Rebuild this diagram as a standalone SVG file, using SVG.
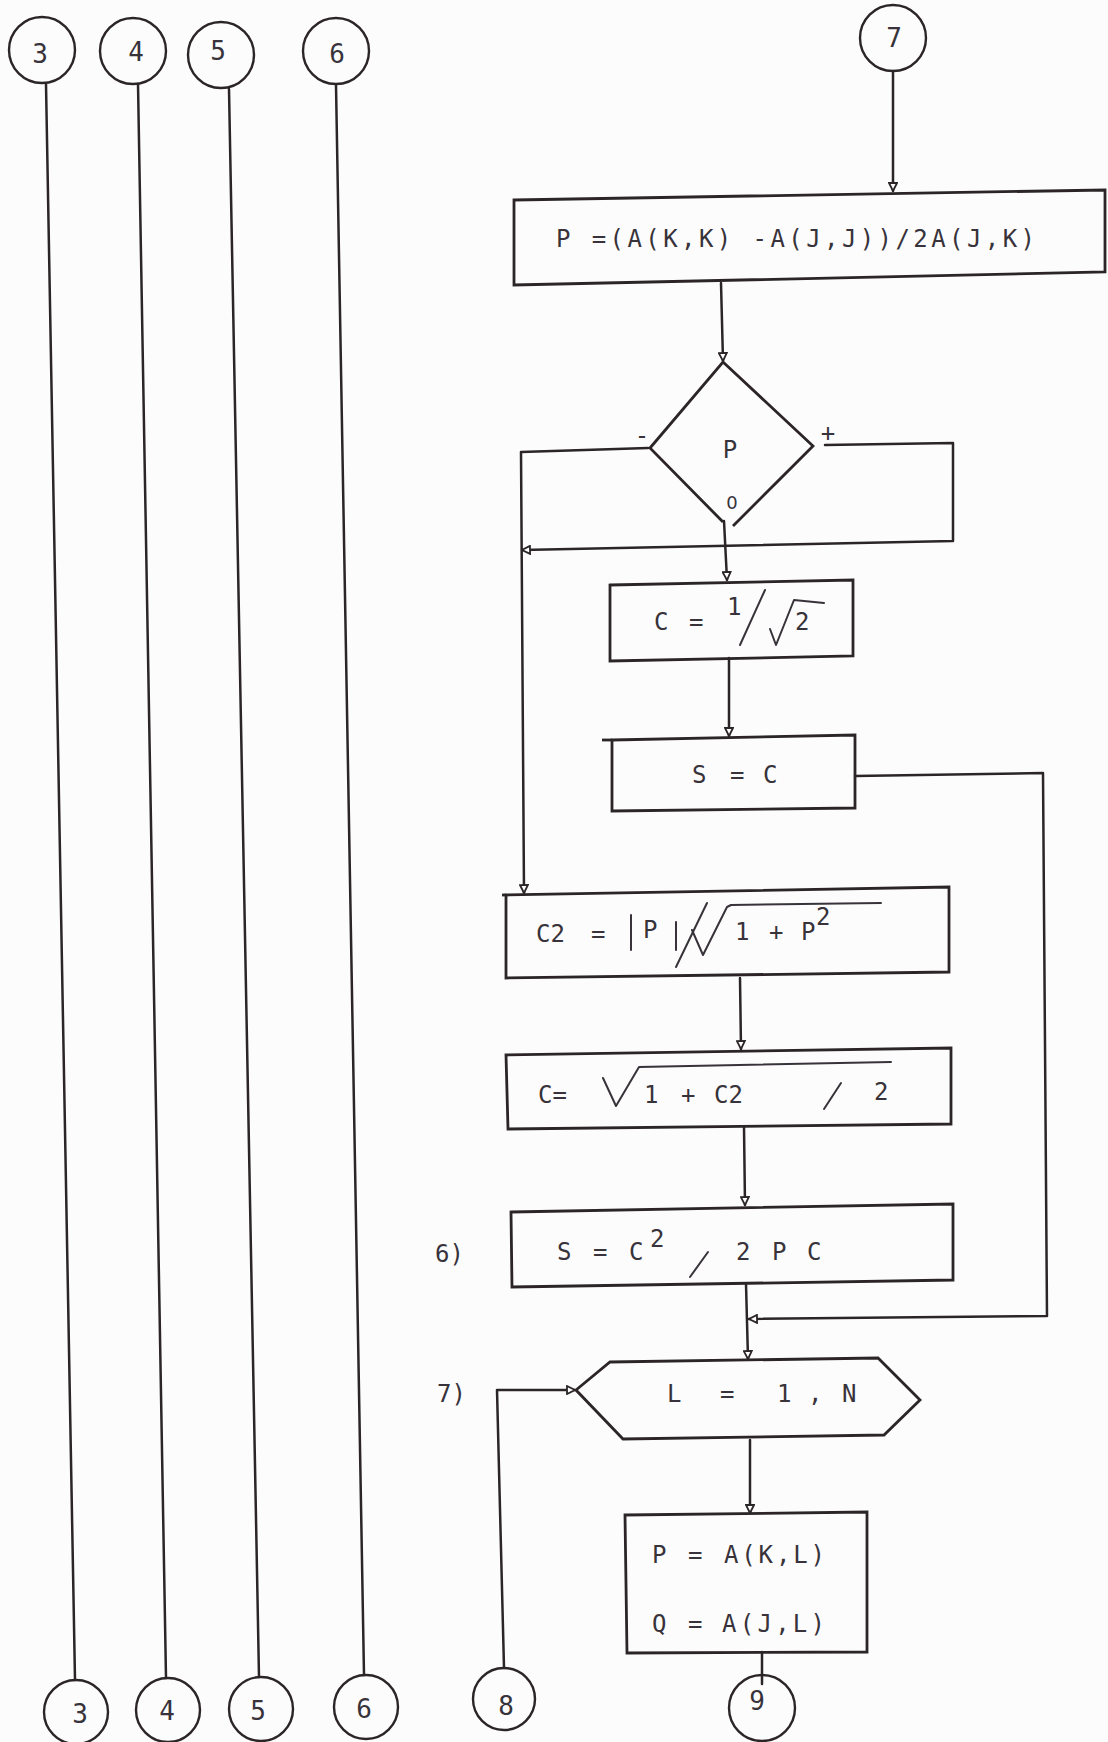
<svg xmlns="http://www.w3.org/2000/svg" width="1108" height="1742" viewBox="0 0 1108 1742">
  <style>
    .ln { fill: none; stroke: #2b2528; stroke-width: 2.5; stroke-linecap: round; stroke-linejoin: round; }
    .bx { fill: none; stroke: #2b2528; stroke-width: 2.8; stroke-linejoin: miter; }
    .cr { fill: none; stroke: #2b2528; stroke-width: 2.4; }
    .t  { font-family: "DejaVu Sans Mono", "Liberation Mono", monospace; font-size: 24px; fill: #38333a; }
    .d  { font-family: "DejaVu Sans Mono", "Liberation Mono", monospace; font-size: 26px; fill: #38333a; text-anchor: middle; }
    .m  { fill: none; stroke: #38333a; stroke-width: 2; stroke-linecap: round; stroke-linejoin: round; }
  </style>
  <defs>
    <marker id="ah" viewBox="0 0 10 10" refX="9" refY="5" markerWidth="10" markerHeight="10" markerUnits="userSpaceOnUse" orient="auto">
      <path d="M1,1 L9,5 L1,9 Z" fill="#ffffff" stroke="#2b2528" stroke-width="1.8"/>
    </marker>
  </defs>

  <rect width="1108" height="1742" fill="#fcfcfc"/>

  <!-- connectors -->
  <g id="connectors">
    <!-- off-page lines 3..6 -->
    <line class="ln" x1="46" y1="84" x2="75" y2="1680"/>
    <line class="ln" x1="138" y1="84" x2="166" y2="1678"/>
    <line class="ln" x1="229" y1="89" x2="259" y2="1677"/>
    <line class="ln" x1="336" y1="85" x2="364" y2="1675"/>
    <!-- main flow -->
    <path class="ln" d="M893,71 L893,191" marker-end="url(#ah)"/>
    <path class="ln" d="M721,283 L723,361" marker-end="url(#ah)"/>
    <!-- negative branch -->
    <path class="ln" d="M648,448 L521,452 L524,893" marker-end="url(#ah)"/>
    <!-- positive branch -->
    <path class="ln" d="M825,445 L953,443 L953,541 L522,550" marker-end="url(#ah)"/>
    <!-- zero branch -->
    <path class="ln" d="M724,521 L727,580" marker-end="url(#ah)"/>
    <path class="ln" d="M729,658 L729,736" marker-end="url(#ah)"/>
    <!-- S = C bypass -->
    <path class="ln" d="M855,776 L1043,773 L1047,1316 L749,1319" marker-end="url(#ah)"/>
    <path class="ln" d="M740,978 L741,1049" marker-end="url(#ah)"/>
    <path class="ln" d="M744,1127 L745,1205" marker-end="url(#ah)"/>
    <path class="ln" d="M746,1284 L748,1359" marker-end="url(#ah)"/>
    <!-- loop return from 8 -->
    <path class="ln" d="M504,1668 L497,1390 L575,1390" marker-end="url(#ah)"/>
    <path class="ln" d="M750,1440 L750,1513" marker-end="url(#ah)"/>
    <path class="ln" d="M762,1652 L762,1684"/>
  </g>

  <!-- top connectors -->
  <g id="c3-top"><circle class="cr" cx="42" cy="50" r="33"/><text class="d" x="40" y="63">3</text></g>
  <g id="c4-top"><circle class="cr" cx="133" cy="51" r="33"/><text class="d" x="136" y="61">4</text></g>
  <g id="c5-top"><circle class="cr" cx="221" cy="55" r="33"/><text class="d" x="218" y="60">5</text></g>
  <g id="c6-top"><circle class="cr" cx="336" cy="51" r="33"/><text class="d" x="337" y="63">6</text></g>
  <g id="c7-top"><circle class="cr" cx="893" cy="38" r="33"/><text class="d" x="894" y="47">7</text></g>

  <!-- P = (A(K,K)-A(J,J))/2A(J,K) -->
  <g id="n-p">
    <polygon class="bx" points="514,200 1105,190 1105,272 514,285"/>
    <text class="t" x="556" y="247" textLength="479" lengthAdjust="spacing">P =(A(K,K) -A(J,J))/2A(J,K)</text>
  </g>

  <!-- sign test on P -->
  <g id="n-test">
    <path class="bx" d="M723,522 L650,448 L723,362 L813,446 L733,526"/>
    <text class="t" x="730" y="458" text-anchor="middle">P</text>
    <text class="t" x="642" y="444" text-anchor="middle">-</text>
    <text class="t" x="828" y="441" text-anchor="middle">+</text>
    <text x="732" y="509" text-anchor="middle" style="font-family:'DejaVu Sans',sans-serif;font-size:18px;fill:#38333a">0</text>
  </g>

  <!-- C = 1/sqrt(2) -->
  <g id="n-c1">
    <polygon class="bx" points="610,585 853,580 853,656 610,661"/>
    <text class="t" x="654" y="630">C</text>
    <text class="t" x="689" y="630">=</text>
    <text class="t" x="727" y="615">1</text>
    <path class="m" d="M740,645 L765,590"/>
    <path class="m" d="M770,629 L776,645 L794,600 L824,603"/>
    <text class="t" x="795" y="630">2</text>
  </g>

  <!-- S = C -->
  <g id="n-s1">
    <polygon class="bx" points="612,740 855,735 855,808 612,811"/>
    <line class="bx" x1="602" y1="740" x2="612" y2="740"/>
    <text class="t" x="692" y="783">S</text>
    <text class="t" x="730" y="783">=</text>
    <text class="t" x="763" y="783">C</text>
  </g>

  <!-- C2 = |P| / sqrt(1 + P^2) -->
  <g id="n-c2">
    <polygon class="bx" points="506,895 949,887 949,972 506,978"/>
    <line class="bx" x1="502" y1="895" x2="506" y2="895"/>
    <text class="t" x="536" y="942">C2</text>
    <text class="t" x="591" y="942">=</text>
    <path class="m" d="M631,915 L631,950"/>
    <text class="t" x="643" y="938">P</text>
    <path class="m" d="M676,922 L676,950"/>
    <path class="m" d="M676,967 L707,903"/>
    <path class="m" d="M692,930 L703,955 L727,907 L731,905 L881,903"/>
    <text class="t" x="735" y="940">1</text>
    <text class="t" x="769" y="940">+</text>
    <text class="t" x="801" y="940">P</text>
    <text class="t" x="816" y="925">2</text>
  </g>

  <!-- C = sqrt((1 + C2) / 2) -->
  <g id="n-c3">
    <polygon class="bx" points="506,1055 951,1048 951,1124 508,1129"/>
    <text class="t" x="538" y="1103">C=</text>
    <path class="m" d="M603,1078 L616,1106 L639,1067 L891,1062"/>
    <text class="t" x="644" y="1103">1</text>
    <text class="t" x="681" y="1103">+</text>
    <text class="t" x="714" y="1103">C2</text>
    <path class="m" d="M824,1109 L841,1083"/>
    <text class="t" x="874" y="1100">2</text>
  </g>

  <!-- S = C^2 / 2PC -->
  <g id="n-s2">
    <polygon class="bx" points="511,1212 953,1204 953,1280 512,1287"/>
    <text class="t" x="557" y="1260">S</text>
    <text class="t" x="593" y="1260">=</text>
    <text class="t" x="629" y="1260">C</text>
    <text class="t" x="650" y="1247">2</text>
    <path class="m" d="M690,1277 L708,1252"/>
    <text class="t" x="736" y="1260">2</text>
    <text class="t" x="772" y="1260">P</text>
    <text class="t" x="807" y="1260">C</text>
    <text class="t" x="435" y="1262">6)</text>
  </g>

  <!-- DO L = 1, N -->
  <g id="n-loop">
    <polygon class="bx" points="610,1362 878,1358 920,1400 884,1435 623,1439 576,1390"/>
    <text class="t" x="667" y="1402">L</text>
    <text class="t" x="720" y="1402">=</text>
    <text class="t" x="777" y="1402">1</text>
    <text class="t" x="808" y="1402">,</text>
    <text class="t" x="842" y="1402">N</text>
    <text class="t" x="437" y="1402">7)</text>
  </g>

  <!-- P = A(K,L), Q = A(J,L) -->
  <g id="n-pq">
    <polygon class="bx" points="625,1515 867,1512 867,1652 627,1653"/>
    <text class="t" x="652" y="1563">P</text>
    <text class="t" x="688" y="1563">=</text>
    <text class="t" x="724" y="1563" textLength="101" lengthAdjust="spacing">A(K,L)</text>
    <text class="t" x="652" y="1632">Q</text>
    <text class="t" x="688" y="1632">=</text>
    <text class="t" x="722" y="1632" textLength="103" lengthAdjust="spacing">A(J,L)</text>
  </g>

  <!-- bottom connectors -->
  <g id="c3-bot"><circle class="cr" cx="76" cy="1712" r="32"/><text class="d" x="80" y="1723">3</text></g>
  <g id="c4-bot"><circle class="cr" cx="168" cy="1710" r="32"/><text class="d" x="167" y="1720">4</text></g>
  <g id="c5-bot"><circle class="cr" cx="261" cy="1709" r="32"/><text class="d" x="258" y="1720">5</text></g>
  <g id="c6-bot"><circle class="cr" cx="366" cy="1707" r="32"/><text class="d" x="364" y="1718">6</text></g>
  <g id="c8-bot"><circle class="cr" cx="504" cy="1699" r="31"/><text class="d" x="506" y="1715">8</text></g>
  <g id="c9-bot"><circle class="cr" cx="762" cy="1708" r="33"/><text class="d" x="757" y="1710">9</text></g>
</svg>
